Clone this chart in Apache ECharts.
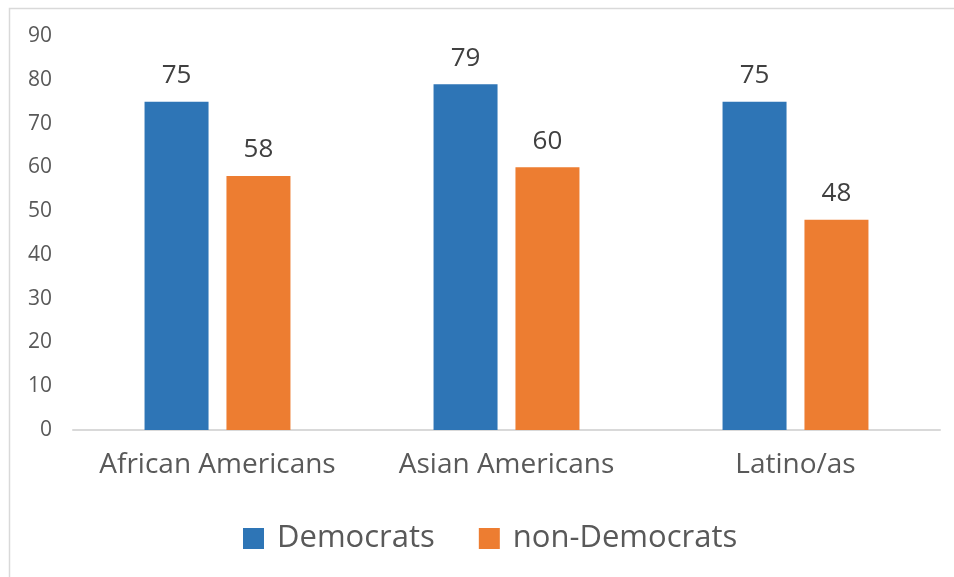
<!DOCTYPE html>
<html>
<head>
<meta charset="utf-8">
<script src="https://cdn.jsdelivr.net/npm/echarts@6/dist/echarts.min.js"></script>
<style>
  html, body { margin: 0; padding: 0; background: #fff; }
  #chart { width: 954px; height: 577px; }
</style>
</head>
<body>
<div id="chart"></div>
<script>
// Groups and share of each party (percent)
const categories = ['African Americans', 'Asian Americans', 'Latino/as'];
const democrats = [75, 79, 75];
const nonDemocrats = [58, 60, 48];
const yTicks = [0, 10, 20, 30, 40, 50, 60, 70, 80, 90];

const FONT = '"Open Sans", "Noto Sans", sans-serif';
const chart = echarts.init(document.getElementById('chart'));

chart.setOption({
  backgroundColor: '#ffffff',
  animation: false,
  textStyle: { fontFamily: FONT },
  graphic: [{
    type: 'rect',
    shape: { x: 9.5, y: 8.5, width: 1000, height: 1000 },
    style: { fill: 'none', stroke: '#d9d9d9', lineWidth: 1.5 },
    silent: true
  }],
  grid: { left: 73, right: 14, top: 36, bottom: 147, containLabel: false },
  legend: {
    top: 518,
    left: 238,
    itemWidth: 21,
    itemHeight: 21,
    itemGap: 44,
    icon: 'rect',
    textStyle: { fontSize: 31, color: '#595959', fontFamily: FONT, padding: [0, 0, 0, 8] },
    data: ['Democrats', 'non-Democrats']
  },
  xAxis: {
    type: 'category',
    data: categories,
    axisLine: { lineStyle: { color: '#d9d9d9', width: 2 } },
    axisTick: { show: false },
    axisLabel: { interval: 0, hideOverlap: false, fontSize: 28, color: '#595959', margin: 21, fontFamily: FONT }
  },
  yAxis: {
    type: 'value',
    min: yTicks[0],
    max: yTicks[yTicks.length - 1],
    interval: 10,
    splitLine: { show: false },
    axisLine: { show: false },
    axisTick: { show: false },
    axisLabel: { fontSize: 21, color: '#595959', margin: 21, fontFamily: FONT }
  },
  series: [
    {
      name: 'Democrats',
      type: 'bar',
      data: democrats,
      barWidth: 64,
      barGap: '28%',
      itemStyle: { color: '#2e75b6' },
      label: { show: true, position: 'top', distance: 13, fontSize: 26, color: '#404040', fontFamily: FONT }
    },
    {
      name: 'non-Democrats',
      type: 'bar',
      data: nonDemocrats,
      barWidth: 64,
      itemStyle: { color: '#ed7d31' },
      label: { show: true, position: 'top', distance: 13, fontSize: 26, color: '#404040', fontFamily: FONT }
    }
  ]
});
</script>
</body>
</html>
